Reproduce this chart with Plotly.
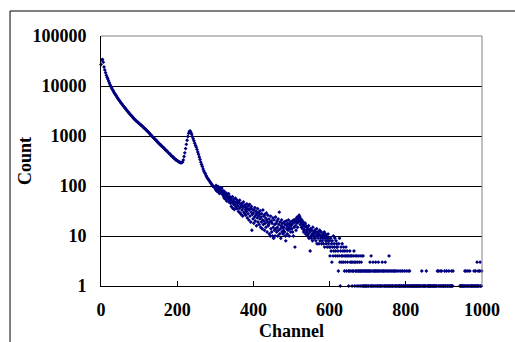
import plotly.graph_objects as go

# ---- data ----
# channels 0..298 (every 2nd channel), smooth part of spectrum
ch_low = list(range(0, 300, 2))
counts_low = [
    27000, 33000, 34000, 30000, 24000, 21000, 18500, 16500, 15000, 13800,
    12600, 11500, 10500, 9800, 9100, 8500, 8000, 7500, 7100, 6700,
    6350, 6000, 5700, 5400, 5150, 4900, 4650, 4450, 4250, 4050,
    3870, 3700, 3540, 3390, 3250, 3110, 2980, 2860, 2740, 2630,
    2530, 2430, 2340, 2250, 2170, 2090, 2020, 1960, 1900, 1840,
    1780, 1730, 1680, 1630, 1580, 1530, 1480, 1430, 1380, 1340,
    1290, 1250, 1200, 1160, 1110, 1070, 1030, 990, 950, 920,
    890, 850, 830, 800, 760, 745, 710, 690, 660, 650,
    620, 600, 590, 560, 545, 520, 510, 490, 470, 455,
    440, 430, 405, 400, 380, 375, 355, 350, 335, 330,
    320, 315, 305, 300, 295, 290, 295, 300, 330, 390,
    460, 560, 680, 820, 980, 1130, 1240, 1260, 1180, 1080,
    970, 880, 800, 720, 650, 600, 540, 480, 430, 380,
    340, 300, 270, 245, 220, 200, 185, 175, 160, 150,
    142, 135, 128, 122, 115, 110, 104, 100, 96, 93,
]

# channels 300..599, scattered part
ch_mid = list(range(300, 600))
counts_mid = [
    96, 84, 102, 88, 79, 93, 85, 98, 76, 90, 83, 71, 94, 80, 87, 74, 82, 91, 69, 78,
    73, 64, 80, 58, 69, 75, 55, 66, 61, 72, 50, 63, 68, 54, 59, 70, 48, 57, 62, 51,
    45, 58, 39, 52, 47, 61, 36, 50, 43, 55, 34, 48, 41, 57, 38, 46, 53, 35, 44, 49,
    40, 31, 47, 36, 52, 29, 43, 38, 27, 45, 33, 41, 25, 37, 48, 30, 39, 28, 42, 34,
    26, 38, 31, 44, 23, 35, 28, 40, 21, 33, 43, 25, 36, 19, 30, 39, 13, 27, 34, 22,
    29, 18, 33, 24, 37, 20, 26, 31, 16, 28, 23, 35, 19, 25, 30, 17, 27, 22, 32, 15,
    24, 19, 28, 14, 21, 33, 17, 25, 20, 13, 27, 18, 23, 15, 29, 21, 12, 19, 26, 16,
    17, 22, 11, 19, 10, 25, 14, 20, 12, 18, 10, 23, 15, 9, 21, 13, 17, 10, 24, 14,
    18, 12, 20, 15, 10, 22, 13, 17, 30, 11, 19, 14, 9, 16, 21, 12, 18, 15, 11, 13,
    15, 19, 12, 17, 10, 8, 20, 14, 16, 11, 18, 13, 21, 15, 10, 17, 14, 19, 12, 16,
    17, 14, 20, 12, 18, 10, 21, 15, 19, 6, 16, 22, 13, 20, 18, 24, 15, 21, 19, 23,
    26, 20, 24, 17, 22, 19, 15, 21, 18, 14, 16, 19, 12, 17, 13, 15, 18, 11, 16, 13,
    12, 15, 10, 14, 11, 16, 9, 13, 12, 5, 14, 10, 9, 13, 11, 8, 15, 10, 12, 9,
    11, 13, 9, 12, 8, 10, 14, 7, 11, 12, 9, 10, 7, 11, 13, 8, 10, 9, 12, 7,
    10, 8, 11, 9, 7, 10, 12, 6, 9, 11, 8, 7, 10, 9, 6, 8, 11, 7, 9, 6,
]

# channels 600..999, low-count tail (zero counts are not drawn on the log axis)
ch_high = list(range(600, 1000))
counts_high = [
    8, 4, 6, 9, 5, 7, 3, 8, 6, 4, 10, 5, 7, 6, 9, 4, 5, 8, 6, 7,
    4, 6, 5, 2, 7, 4, 9, 3, 1, 5, 6, 4, 3, 7, 4, 5, 3, 6, 4, 2,
    5, 3, 4, 6, 2, 4, 5, 3, 4, 2, 1, 4, 2, 5, 3, 4, 2, 3, 4, 1,
    2, 3, 4, 2, 5, 3, 1, 4, 2, 3, 2, 4, 1, 3, 2, 4, 2, 1, 3, 2,
    4, 2, 1, 3, 2, 4, 1, 2, 4, 1, 2, 1, 2, 0, 1, 2, 1, 2, 1, 0,
    2, 1, 2, 1, 0, 2, 3, 1, 2, 4, 1, 2, 0, 1, 3, 2, 1, 0, 2, 1,
    2, 3, 1, 2, 0, 1, 2, 1, 3, 2, 1, 0, 2, 1, 1, 2, 0, 1, 3, 2,
    1, 2, 0, 1, 2, 1, 3, 1, 2, 0, 1, 2, 1, 0, 2, 1, 4, 1, 2, 0,
    1, 2, 1, 0, 2, 1, 1, 0, 2, 1, 2, 0, 1, 1, 2, 0, 1, 2, 0, 1,
    1, 0, 2, 1, 1, 0, 1, 2, 0, 1, 1, 2, 0, 1, 1, 0, 2, 1, 0, 1,
    1, 2, 0, 1, 1, 0, 2, 1, 0, 1, 2, 1, 0, 1, 1, 0, 1, 0, 1, 1,
    0, 1, 1, 0, 1, 0, 1, 1, 0, 1, 1, 0, 1, 1, 0, 1, 0, 1, 1, 0,
    1, 0, 2, 1, 0, 1, 1, 0, 1, 0, 1, 1, 0, 1, 2, 0, 1, 0, 1, 1,
    0, 1, 1, 0, 1, 1, 0, 1, 0, 1, 1, 0, 1, 0, 1, 1, 0, 1, 0, 1,
    1, 0, 1, 2, 0, 2, 1, 0, 1, 0, 2, 1, 0, 1, 2, 0, 1, 0, 1, 1,
    0, 1, 2, 0, 1, 1, 0, 2, 1, 0, 1, 1, 0, 2, 1, 0, 1, 0, 1, 1,
    2, 1, 0, 1, 2, 0, 0, 0, 0, 0, 0, 0, 0, 0, 0, 0, 0, 0, 0, 0,
    0, 0, 1, 0, 1, 1, 0, 1, 0, 1, 1, 0, 1, 0, 1, 2, 0, 1, 2, 0,
    1, 1, 0, 2, 1, 0, 1, 0, 2, 1, 0, 1, 1, 0, 1, 0, 1, 1, 0, 2,
    1, 0, 1, 2, 1, 0, 1, 3, 1, 0, 2, 1, 1, 0, 2, 3, 1, 0, 1, 2,
]

x_ticks = [0, 200, 400, 600, 800, 1000]
x_tick_labels = ["0", "200", "400", "600", "800", "1000"]
y_ticks = [1, 10, 100, 1000, 10000, 100000]
y_tick_labels = ["1", "10", "100", "1000", "10000", "100000"]
x_title = "Channel"
y_title = "Count"

channels = ch_low + ch_mid + ch_high
counts = counts_low + counts_mid + counts_high
xs = [c for c, n in zip(channels, counts) if n > 0]
ys = [n for n in counts if n > 0]

NAVY = "#000080"
FONT = "Liberation Serif"
FS = 18
bold = dict(family=FONT, size=FS, color="black", weight="bold")

fig = go.Figure()
fig.add_trace(go.Scatter(
    x=xs, y=ys, mode="markers",
    marker=dict(symbol="diamond", size=3, color=NAVY, line=dict(width=0)),
    cliponaxis=False, hoverinfo="skip",
))

fig.update_layout(
    width=515, height=342,
    margin=dict(l=101, r=33, t=36, b=56, autoexpand=False),
    paper_bgcolor="white", plot_bgcolor="white",
    showlegend=False,
    font=dict(family=FONT, size=FS, color="black"),
    xaxis=dict(
        range=[0, 1000], tickvals=x_ticks, ticktext=x_tick_labels,
        ticks="inside", ticklen=5, tickcolor="black", tickwidth=1,
        showline=True, linecolor="black", linewidth=1,
        showgrid=False, zeroline=False, automargin=False,
        tickfont=bold, ticklabelstandoff=7,
    ),
    yaxis=dict(
        type="log", range=[0, 5], tickvals=y_ticks, ticktext=y_tick_labels,
        ticks="", showline=True, linecolor="black", linewidth=1,
        showgrid=True, gridcolor="black", gridwidth=1, zeroline=False,
        automargin=False, tickfont=bold, ticklabelstandoff=10,
    ),
    annotations=[
        dict(text=x_title, xref="paper", yref="paper", x=0.5, y=-0.18,
             xanchor="center", yanchor="middle", showarrow=False, font=bold),
        dict(text=y_title, xref="paper", yref="paper", x=-0.1995, y=0.5,
             xanchor="center", yanchor="middle", textangle=-90,
             showarrow=False, font=bold),
    ],
    shapes=[
        # outer chart frame (extends past the window on the right/bottom)
        dict(type="rect", xref="paper", yref="paper",
             x0=-0.2388, x1=1.2, y0=-0.5, y1=1.1,
             line=dict(color="black", width=1), fillcolor="rgba(0,0,0,0)", layer="above"),
        # grey top and right plot-area border
        dict(type="line", xref="paper", yref="paper", x0=0, x1=1, y0=1, y1=1,
             line=dict(color="#808080", width=1), layer="above"),
        dict(type="line", xref="paper", yref="paper", x0=1, x1=1, y0=0, y1=1,
             line=dict(color="#808080", width=1), layer="above"),
    ],
)

fig.write_html("out.html")
